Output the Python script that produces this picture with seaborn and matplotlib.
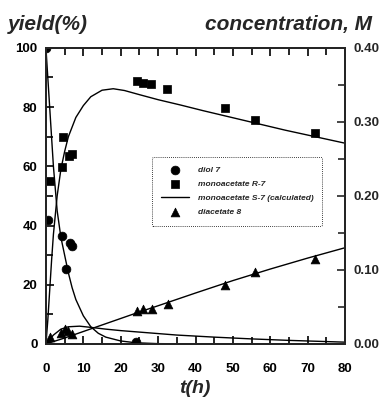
import numpy as np
import pandas as pd
import matplotlib
matplotlib.use("Agg")
import matplotlib.pyplot as plt
import seaborn as sns
from matplotlib.ticker import MultipleLocator

# measured points
diol_t = [0, 0.5, 4.2, 5.3, 6.5, 7, 24]
diol_y = [100, 42, 36.6, 25.4, 34, 33, 0.5]

r7_t = [0, 1, 4.3, 4.6, 6.3, 7.1, 24.4, 26, 28, 32.5, 48, 56, 72]
r7_y = [0, 55, 59.7, 70, 63.4, 64, 88.8, 88.3, 87.8, 86, 79.7, 75.6, 71.2]

di_t = [0, 1, 4, 5, 6, 7, 24.3, 26, 28.3, 32.6, 48, 56, 72]
di_y = [0, 2.2, 3.7, 5, 4.4, 3.4, 11.2, 11.9, 11.9, 13.6, 20, 24.4, 28.8]

# calculated curves
s7_t = [0, 0.5, 1, 1.5, 2, 3, 4, 5, 6, 8, 10, 12, 15, 18, 21, 25, 30, 36, 42, 48, 56, 64, 72, 80]
s7_y = [0, 8, 18, 28, 37, 50, 59, 65, 70, 76.5, 80.5, 83.5, 85.7, 86.2, 85.6, 84.2, 82.5, 80.7, 78.8, 77, 74.6, 72.2, 70, 67.8]

diolfit_t = [0, 1, 2, 3, 4, 5, 6, 7, 8, 10, 12, 14, 16, 20, 24, 30, 40, 80]
diolfit_y = [100, 80, 60, 45, 36, 30, 24, 19, 15, 9.5, 5.8, 3.6, 2.3, 1, 0.4, 0.1, 0, 0]

difit_t = [0, 5, 10, 15, 20, 25, 30, 40, 50, 60, 70, 80]
difit_y = [0, 2, 4.2, 6.4, 8.6, 10.8, 12.9, 17.2, 21.4, 25.3, 29, 32.5]

low_t = [0, 2, 4, 6, 9, 12, 16, 20, 27, 35, 45, 55, 65, 80]
low_y = [0, 3, 5, 5.8, 6, 5.6, 5, 4.5, 3.8, 3, 2.3, 1.7, 1.2, 0.6]

sns.set_style("ticks")
plt.rcParams['font.family'] = ['Liberation Sans', 'DejaVu Sans']

fig = plt.figure(figsize=(3.86, 3.99), dpi=100)
ax = fig.add_axes([0.119, 0.138, 0.775, 0.742])

lk = dict(color="black", linewidth=1.0, ax=ax)
sns.lineplot(x=diolfit_t, y=diolfit_y, **lk)
sns.lineplot(x=difit_t, y=difit_y, **lk)
sns.lineplot(x=low_t, y=low_y, **lk)
sns.lineplot(x=s7_t, y=s7_y, label="monoacetate S-7 (calculated)", **lk)

mk = dict(color="black", s=40, edgecolor="black", linewidth=0.5, ax=ax, zorder=5)
sns.scatterplot(x=diol_t, y=diol_y, marker="o", label="diol 7", **mk)
sns.scatterplot(x=r7_t, y=r7_y, marker="s", label="monoacetate R-7", **mk)
sns.scatterplot(x=di_t, y=di_y, marker="^", label="diacetate 8", **mk)

ax.set_xlim(0, 80)
ax.set_ylim(0, 100)
ax.xaxis.set_major_locator(MultipleLocator(10))
ax.xaxis.set_minor_locator(MultipleLocator(5))
ax.yaxis.set_major_locator(MultipleLocator(20))
ax.yaxis.set_minor_locator(MultipleLocator(10))
ax.tick_params(which="both", direction="in", top=True, right=False, width=1.2,
               labelsize=9.5, colors="black", pad=6)
ax.tick_params(axis="x", which="major", pad=14)
ax.tick_params(which="major", length=6)
ax.tick_params(which="minor", length=5)
for lab in ax.get_xticklabels() + ax.get_yticklabels():
    lab.set_fontweight("bold")
for sp in ax.spines.values():
    sp.set_linewidth(1.4)
    sp.set_color("black")

ax2 = ax.twinx()
ax2.set_ylim(0, 0.40)
ax2.yaxis.set_major_locator(MultipleLocator(0.10))
ax2.yaxis.set_minor_locator(MultipleLocator(0.05))
ax2.yaxis.set_major_formatter(matplotlib.ticker.FormatStrFormatter("%.2f"))
ax2.tick_params(which="both", direction="in", width=1.2, labelsize=9.5, pad=6)
ax2.tick_params(which="major", length=6)
ax2.tick_params(which="minor", length=5)
for lab in ax2.get_yticklabels():
    lab.set_fontweight("bold")
for sp in ax2.spines.values():
    sp.set_linewidth(1.4)

h, l = ax.get_legend_handles_labels()
order = [l.index("diol 7"), l.index("monoacetate R-7"),
         l.index("monoacetate S-7 (calculated)"), l.index("diacetate 8")]
leg = ax.legend([h[i] for i in order], [l[i] for i in order],
                loc="upper left", bbox_to_anchor=(0.34, 0.645),
                prop=dict(size=6, weight="bold", style="italic"),
                fancybox=True, framealpha=1, edgecolor="black",
                handlelength=3.4, labelspacing=0.75, borderpad=1.1,
                handletextpad=1.0)
leg.get_frame().set_linestyle((0, (1, 1.5)))
leg.get_frame().set_linewidth(0.6)

tk = dict(fontsize=15, fontweight="bold", fontstyle="italic")
fig.text(0.02, 0.925, "yield(%)", ha="left", va="baseline", **tk)
fig.text(0.965, 0.925, "concentration, M", ha="right", va="baseline", **tk)
fig.text(0.505, 0.004, "t(h)", ha="center", va="bottom", fontsize=14,
         fontweight="bold", fontstyle="italic")

fig.savefig("out.png", dpi=100)
